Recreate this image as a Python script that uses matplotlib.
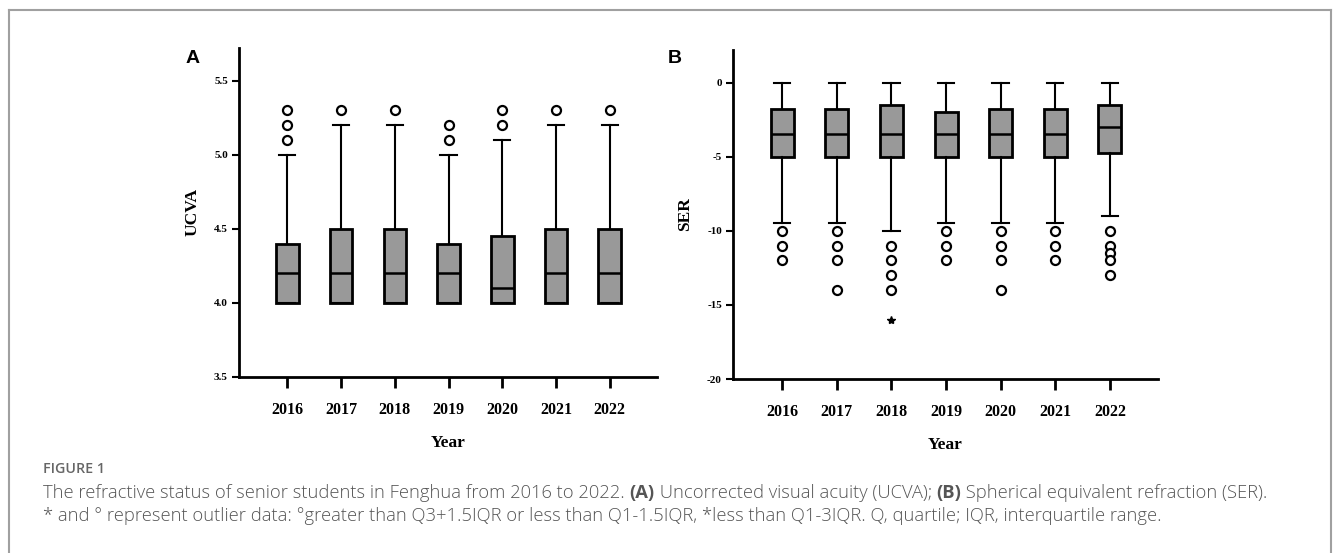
import matplotlib
matplotlib.use('Agg')
import matplotlib.pyplot as plt
from matplotlib.lines import Line2D

# data
years = ['2016', '2017', '2018', '2019', '2020', '2021', '2022']

# panel A, UCVA
ucva_q1 = [4.0, 4.0, 4.0, 4.0, 4.0, 4.0, 4.0]
ucva_med = [4.2, 4.2, 4.2, 4.2, 4.1, 4.2, 4.2]
ucva_q3 = [4.4, 4.5, 4.5, 4.4, 4.45, 4.5, 4.5]
ucva_lo = [4.0, 4.0, 4.0, 4.0, 4.0, 4.0, 4.0]
ucva_hi = [5.0, 5.2, 5.2, 5.0, 5.1, 5.2, 5.2]
ucva_out = [[5.1, 5.2, 5.3], [5.3], [5.3], [5.1, 5.2], [5.2, 5.3], [5.3], [5.3]]

# panel B, SER
ser_q1 = [-5.0, -5.0, -5.0, -5.0, -5.0, -5.0, -4.75]
ser_med = [-3.5, -3.5, -3.5, -3.5, -3.5, -3.5, -3.0]
ser_q3 = [-1.75, -1.75, -1.5, -2.0, -1.75, -1.75, -1.5]
ser_lo = [-9.5, -9.5, -10.0, -9.5, -9.5, -9.5, -9.0]
ser_hi = [0, 0, 0, 0, 0, 0, 0]
ser_out = [[-10, -11, -12], [-10, -11, -12, -14], [-11, -12, -13, -14],
           [-10, -11, -12], [-10, -11, -12, -14], [-10, -11, -12],
           [-10, -11, -11.5, -12, -13]]
ser_extreme = [[], [], [-16], [], [], [], []]

serif = 'Liberation Serif'

fig = plt.figure(figsize=(13.33, 5.53), dpi=100)


def make_stats(q1, med, q3, lo, hi, out):
    stats = []
    for i in range(len(q1)):
        stats.append(dict(q1=q1[i], med=med[i], q3=q3[i], whislo=lo[i],
                          whishi=hi[i], fliers=out[i]))
    return stats


def panel(rect, stats, ylim, yticks, yticklabels, ylabel, letter, letter_x):
    ax = fig.add_axes(rect)
    ax.bxp(stats, positions=range(len(stats)), widths=0.42, capwidths=0.3,
           patch_artist=True, showfliers=True,
           boxprops=dict(facecolor='#999999', edgecolor='black', linewidth=2.0),
           medianprops=dict(color='black', linewidth=1.8),
           whiskerprops=dict(color='black', linewidth=1.5),
           capprops=dict(color='black', linewidth=1.5),
           flierprops=dict(marker='o', markerfacecolor='white',
                           markeredgecolor='black', markersize=6.5,
                           markeredgewidth=1.6, linestyle='none'))
    ax.set_xlim(-0.9, 6.88)
    ax.set_ylim(*ylim)
    ax.set_yticks(yticks)
    ax.set_yticklabels(yticklabels, fontfamily=serif, fontweight='bold', fontsize=8)
    ax.set_xticks(range(len(years)))
    ax.set_xticklabels(years, fontfamily=serif, fontweight='bold', fontsize=11.5)
    ax.tick_params(axis='x', length=8, width=2, pad=10)
    ax.tick_params(axis='y', length=5, width=1.5, pad=3)
    for s in ['top', 'right']:
        ax.spines[s].set_visible(False)
    for s in ['left', 'bottom']:
        ax.spines[s].set_linewidth(2)
    ax.set_xlabel('Year', fontfamily=serif, fontweight='bold', fontsize=12.5, labelpad=12)
    ax.set_ylabel(ylabel, fontfamily=serif, fontweight='bold', fontsize=12.5, labelpad=10)
    fig.text(letter_x, 0.895, letter, fontfamily='Liberation Sans', fontweight='bold',
             fontsize=14, ha='center', va='center')
    return ax


axA = panel([0.1793, 0.3183, 0.3136, 0.5949],
            make_stats(ucva_q1, ucva_med, ucva_q3, ucva_lo, ucva_hi, ucva_out),
            (3.5, 5.72), [3.5, 4.0, 4.5, 5.0, 5.5],
            ['3.5', '4.0', '4.5', '5.0', '5.5'], 'UCVA', 'A', 193 / 1333)

axB = panel([0.5499, 0.3146, 0.3188, 0.595],
            make_stats(ser_q1, ser_med, ser_q3, ser_lo, ser_hi, ser_out),
            (-20, 2.2), [-20, -15, -10, -5, 0],
            ['-20', '-15', '-10', '-5', '0'], 'SER', 'B', 675 / 1333)

# extreme outliers (*)
for i, vals in enumerate(ser_extreme):
    if vals:
        axB.plot([i] * len(vals), vals, linestyle='none', marker='*',
                 color='black', markersize=6)

# frame around the figure
frame = '#a0a0a0'
fig.add_artist(Line2D([9 / 1333, 9 / 1333], [0, 1 - 10 / 553], color=frame, lw=1.5))
fig.add_artist(Line2D([9 / 1333, 1331 / 1333], [1 - 10 / 553, 1 - 10 / 553], color=frame, lw=1.5))
fig.add_artist(Line2D([1331 / 1333, 1331 / 1333], [0, 1 - 10 / 553], color=frame, lw=1.5))

# caption
cap_color = '#555555'
cap_font = 'Open Sans'
fig.text(43 / 1333, 1 - 469 / 553, 'FIGURE 1', fontfamily=cap_font, fontweight='semibold',
         fontsize=10.3, color='#666666', va='center')

renderer = fig.canvas.get_renderer()


def rich_line(x, y, pieces, size):
    for txt, weight in pieces:
        t = fig.text(x, y, txt, fontfamily=cap_font, fontweight=weight,
                     fontsize=size, color=cap_color, va='center')
        bb = t.get_window_extent(renderer=renderer)
        x += bb.width / fig.bbox.width


rich_line(43 / 1333, 1 - 493 / 553, [
    ('The refractive status of senior students in Fenghua from 2016 to 2022. ', 'light'),
    ('(A)', 'bold'),
    (' Uncorrected visual acuity (UCVA); ', 'light'),
    ('(B)', 'bold'),
    (' Spherical equivalent refraction (SER).', 'light')], 13.2)
rich_line(43 / 1333, 1 - 516 / 553, [
    ('* and \u00b0 represent outlier data: \u00b0greater than Q3+1.5IQR or less than '
     'Q1-1.5IQR, *less than Q1-3IQR. Q, quartile; IQR, interquartile range.', 'light')], 13.2)

fig.savefig('out.png', dpi=100)
